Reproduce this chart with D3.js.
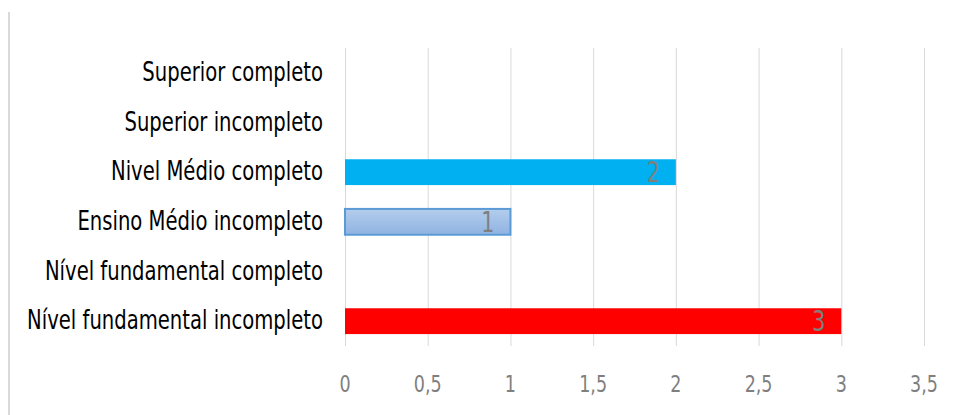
<!DOCTYPE html>
<html>
<head>
<meta charset="utf-8">
<script src="https://cdn.jsdelivr.net/npm/d3@7"></script>
<style>
  body { margin: 0; background: #fff; }
  text { font-family: "DejaVu Sans Condensed", "Open Sans", sans-serif; font-stretch: condensed; }
</style>
</head>
<body>
<svg id="chart"></svg>
<script>
// *********************************************
// DATA
// *********************************************
var categories = ["Superior completo", "Superior incompleto", "Nivel Médio completo",
                  "Ensino Médio incompleto", "Nível fundamental completo", "Nível fundamental incompleto"];
var values = [0, 0, 2, 1, 0, 3];
var barColors = ["none", "none", "#00b0f0", "url(#paleBlue)", "none", "#ff0000"];
var ticks = [0, 0.5, 1, 1.5, 2, 2.5, 3, 3.5];

// *********************************************
// SETUP
// *********************************************
var width = 957,
    height = 415,
    stretch = 1.2; // text in the picture is a bit taller than wide

var svg = d3.select("#chart")
    .attr("width", width)
    .attr("height", height);

var grad = svg.append("defs").append("linearGradient")
    .attr("id", "paleBlue")
    .attr("x1", 0).attr("y1", 0).attr("x2", 0).attr("y2", 1);
grad.append("stop").attr("offset", "0%").attr("stop-color", "#b4cdec");
grad.append("stop").attr("offset", "100%").attr("stop-color", "#8fb3e2");

// outer frame edge on the left
svg.append("line")
    .attr("x1", 9).attr("x2", 9)
    .attr("y1", 12).attr("y2", height)
    .attr("stroke", "#d9d9d9")
    .attr("stroke-width", 2);

var x = d3.scaleLinear().domain([0, 3.5]).range([345, 924]);
var y = d3.scaleBand().domain(categories).range([48, 346]).paddingInner(0.48).paddingOuter(0.24);

// gridlines
svg.append("g").selectAll("line")
    .data(ticks)
    .enter().append("line")
    .attr("x1", d => x(d) + 0.5).attr("x2", d => x(d) + 0.5)
    .attr("y1", 48).attr("y2", 346)
    .attr("stroke", "#d9d9d9")
    .attr("stroke-width", 1);

// x tick labels
svg.append("g").selectAll("text")
    .data(ticks)
    .enter().append("text")
    .attr("transform", d => "translate(" + x(d) + ",392)scale(1," + stretch + ")")
    .attr("text-anchor", "middle")
    .attr("fill", "#7f7f7f")
    .style("font-size", "19.5px")
    .text(d => String(d).replace(".", ","));

// category labels
svg.append("g").selectAll("text")
    .data(categories)
    .enter().append("text")
    .attr("transform", d => "translate(323," + (y(d) + y.bandwidth() / 2 + 8) + ")scale(1," + stretch + ")")
    .attr("text-anchor", "end")
    .attr("fill", "#000")
    .style("font-size", "21.8px")
    .text(d => d);

// bars
var bars = categories.map((c, i) => ({cat: c, val: values[i], color: barColors[i]}))
    .filter(d => d.val > 0);

svg.append("g").selectAll("rect")
    .data(bars)
    .enter().append("rect")
    .attr("x", x(0))
    .attr("y", d => y(d.cat))
    .attr("width", d => x(d.val) - x(0))
    .attr("height", y.bandwidth())
    .attr("fill", d => d.color)
    .attr("stroke", d => d.color === "url(#paleBlue)" ? "#5b9bd5" : "none")
    .attr("stroke-width", 2);

// data labels
svg.append("g").selectAll("text")
    .data(bars)
    .enter().append("text")
    .attr("transform", d => "translate(" + (x(d.val) - 16) + "," + (y(d.cat) + y.bandwidth() / 2 + 10) + ")scale(1," + stretch + ")")
    .attr("text-anchor", "end")
    .attr("fill", "#7f7f7f")
    .style("font-size", "23px")
    .text(d => d.val);
</script>
</body>
</html>
